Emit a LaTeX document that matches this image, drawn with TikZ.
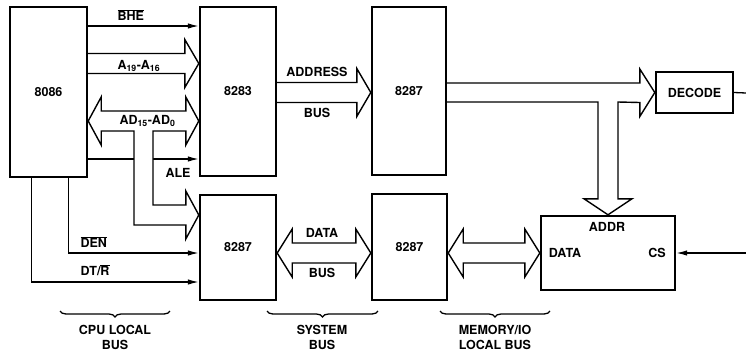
\documentclass[tikz,border=0pt]{standalone}
\usepackage{fontspec}
\setmainfont{TeX Gyre Heros}
\usetikzlibrary{calc,arrows.meta,decorations.pathreplacing}

% wide bus arrows: #1 source anchor, #2 target anchor, #3 row
\newcommand\busright[3]{\draw[bus] ($(#1|-0,#3)+(0,-10)$) -- ($(#2|-0,#3)+(-14,-10)$) -- ++(0,-14) -- (#2|-0,#3) -- ($(#2|-0,#3)+(-14,24)$) -- ++(0,-14) -- ($(#1|-0,#3)+(0,10)$);}
\newcommand\busboth[3]{\draw[bus] (#1|-0,#3) -- +(15,-24) -- +(15,-10) -- ($(#2|-0,#3)+(-15,-10)$) -- ++(0,-14) -- (#2|-0,#3) -- ($(#2|-0,#3)+(-15,24)$) -- ++(0,-14) -- ($(#1|-0,#3)+(15,10)$) -- ++(0,14) -- cycle;}

\begin{document}
\begin{tikzpicture}[x=1pt,y=-1pt,
	every node/.style={font=\bfseries\fontsize{12.5}{15}\selectfont},
	chip/.style={draw,line width=2.4pt,inner sep=0pt},
	bus/.style={draw,fill=white,line width=1.4pt,line join=miter},
	sig/.style={line width=1.3pt,-{Latex[length=11pt,width=5.5pt]}},
	brc/.style={line width=1.3pt,decorate,decoration={brace,mirror,amplitude=6pt}}]
	\useasboundingbox (0,0) rectangle (746,354);

	\node[chip,minimum width=77pt,minimum height=170pt] (cpu) at (48.5,92) {8086};
	\node[chip,minimum width=76pt,minimum height=169pt] (latch) at (238,91.5) {8283};
	\node[chip,minimum width=74pt,minimum height=168pt] (xcvrA) at (409,91) {8287};
	\node[chip,minimum width=76pt,minimum height=105pt] (xcvrD) at (238,247.5) {8287};
	\node[chip,minimum width=75pt,minimum height=106pt] (xcvrM) at (409.5,247) {8287};
	\node[chip,minimum width=134pt,minimum height=74pt] (mem) at (608,253) {};
	\node[chip,minimum width=77pt,minimum height=41pt] (decode) at (694.5,92.5) {DECODE};
	\node (addr) at (607,227) {ADDR};
	\node (data) at (565,253) {DATA};
	\node (cs) at (657,253) {CS};
	\coordinate (rimA) at (746,93);
	\coordinate (rimB) at (746,253);

	% control lines
	\draw[sig] (cpu.east|-0,26) -- (latch.west|-0,26);
	\draw[sig] (cpu.east|-0,159) -- (latch.west|-0,159);
	\draw[sig] ($(cpu.south)+(20,0)$) |- (xcvrD.west|-0,253);
	\draw[sig] ($(cpu.south)+(-17,0)$) |- (xcvrD.west|-0,282);
	\draw[line width=1.3pt] (decode.east) -- (rimA);
	\draw[sig] (rimB) -- (mem.east);

	% buses
	\busright{cpu.east}{latch.west}{63.5}
	\draw[bus] (cpu.east|-0,121) -- +(13,-24) -- +(13,-10) -- ($(latch.west|-0,121)+(-13,-10)$) -- ++(0,-14) -- (latch.west|-0,121) -- ($(latch.west|-0,121)+(-13,24)$) -- ++(0,-14) -- (153,131) -- (153,205) -- ($(xcvrD.west|-0,215)+(-13,-10)$) -- ++(0,-14) -- (xcvrD.west|-0,215) -- ($(xcvrD.west|-0,215)+(-13,24)$) -- ++(0,-14) -- (134,225) -- (134,131) -- ($(cpu.east|-0,121)+(13,10)$) -- ++(0,14) -- cycle;
	\busright{latch.east}{xcvrA.west}{92.5}
	\draw[bus] (xcvrA.east|-0,83) -- ($(decode.west)+(-15,-9.5)$) -- ++(0,-14) -- (decode.west) -- ($(decode.west)+(-15,24)$) -- ++(0,-14) -- (618,102) -- ($(mem.north)+(10,-16)$) -- ++(14,0) -- (mem.north) -- ($(mem.north)+(-24,-16)$) -- ++(14,0) -- (598,102) -- (xcvrA.east|-0,102);
	\busboth{xcvrD.east}{xcvrM.west}{253}
	\busboth{xcvrM.east}{mem.west}{253}

	% labels
	\node[anchor=west] (bhe) at (114,15) {$\overline{\hbox{BHE}}$};
	\node[anchor=west] (ahi) at (114,66) {A\textsubscript{19}-A\textsubscript{16}};
	\node[anchor=west] (adlo) at (116,121) {AD\textsubscript{15}-AD\textsubscript{0}};
	\node[anchor=west] (ale) at (162,173) {ALE};
	\node[anchor=west] (den) at (77,242) {$\overline{\hbox{DEN}}$};
	\node[anchor=west] (dtr) at (77,270) {DT/$\overline{\hbox{R}}$};
	\node (abusA) at (317,72) {ADDRESS};
	\node (abusB) at (317,113) {BUS};
	\node (dbusA) at (322,233) {DATA};
	\node (dbusB) at (322,273) {BUS};

	% bus groups
	\draw[brc] (60,311) -- (170,311);
	\draw[brc] (267,311) -- (378,311);
	\draw[brc] (440,311) -- (550,311);
	\node[align=center] (cpubus) at (115,337) {CPU LOCAL\\BUS};
	\node[align=center] (sysbus) at (322,337) {SYSTEM\\BUS};
	\node[align=center] (membus) at (495,337) {MEMORY/IO\\LOCAL BUS};
\end{tikzpicture}
\end{document}
